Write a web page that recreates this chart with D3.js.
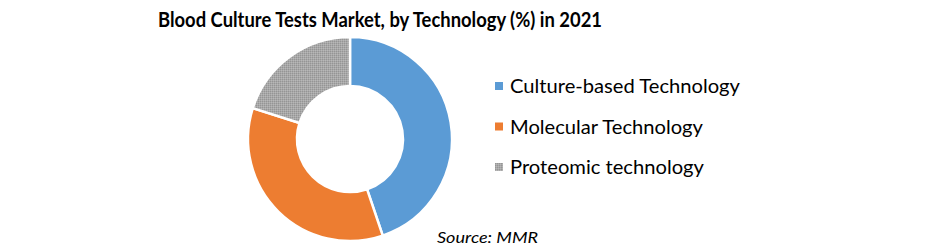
<!DOCTYPE html>
<html>
<head>
<meta charset="utf-8">
<script src="https://cdn.jsdelivr.net/npm/d3@7"></script>
<style>
  body { margin: 0; background: #fff; }
  text { font-family: Lato, "Open Sans", sans-serif; fill: #000; }
</style>
</head>
<body>
<svg id="chart" width="941" height="249"></svg>
<script>
// data
const categories = ['Culture-based Technology', 'Molecular Technology', 'Proteomic technology'];
const shares = [44.8, 35.1, 20.1];
const colors = ['#5B9BD5', '#ED7D31', 'url(#dots)'];

const svg = d3.select('#chart');
const center = [350, 139];
const outerR = 102;
const innerR = 53;

// Lato is a bit wider/shorter than the original font, so stretch text to width
function stretch(sel, k) {
    sel.each(function() {
        const w = this.getComputedTextLength();
        d3.select(this).attr('textLength', w * k).attr('lengthAdjust', 'spacingAndGlyphs');
    });
}

// dotted grey fill for the third slice
const defs = svg.append('defs');
const pat = defs.append('pattern')
    .attr('id', 'dots')
    .attr('width', 2).attr('height', 2)
    .attr('patternUnits', 'userSpaceOnUse');
pat.append('rect').attr('width', 2).attr('height', 2).attr('fill', '#A8A8A8');
pat.append('rect').attr('width', 1).attr('height', 1).attr('fill', '#959595');
pat.append('rect').attr('x', 1).attr('y', 1).attr('width', 1).attr('height', 1).attr('fill', '#B8B8B8');

// title
const title = svg.append('text')
    .attr('x', 158).attr('y', 27)
    .style('font-size', '21px')
    .style('font-weight', 'bold')
    .text('Blood Culture Tests Market, by Technology (%) in 2021');
stretch(title, 444 / title.node().getComputedTextLength());

// donut
const pie = d3.pie().sort(null).value(d => d);
const arc = d3.arc().innerRadius(innerR).outerRadius(outerR);

svg.append('g')
    .attr('transform', 'translate(' + center + ')')
    .selectAll('path')
    .data(pie(shares))
    .enter()
    .append('path')
    .attr('d', arc)
    .attr('fill', (d, i) => colors[i])
    .attr('stroke', '#fff')
    .attr('stroke-width', 2.5);

// legend
const legend = svg.append('g').attr('transform', 'translate(495, 86)');
const item = legend.selectAll('g')
    .data(categories)
    .enter()
    .append('g')
    .attr('transform', (d, i) => 'translate(0,' + i * 40.5 + ')');

item.append('rect')
    .attr('x', 0).attr('y', -4)
    .attr('width', 8).attr('height', 8)
    .attr('fill', (d, i) => colors[i]);

const legendText = item.append('text')
    .attr('x', 15).attr('y', 7)
    .style('font-size', '18.8px')
    .text(d => d);
stretch(legendText, 230 / legendText.node().getComputedTextLength());

// source
const source = svg.append('text')
    .attr('x', 437).attr('y', 243)
    .style('font-size', '15px')
    .style('font-style', 'italic')
    .text('Source: MMR');
stretch(source, 101 / source.node().getComputedTextLength());
</script>
</body>
</html>
